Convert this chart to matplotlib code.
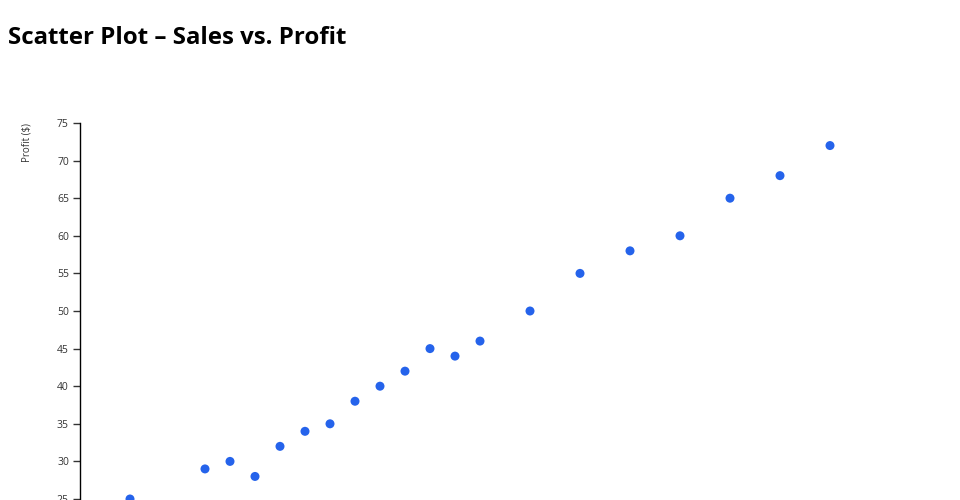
import matplotlib.pyplot as plt

# sales vs profit points
sales = [100, 250, 300, 350, 400, 450, 500, 550, 600, 650,
         700, 750, 800, 900, 1000, 1100, 1200, 1300, 1400, 1500]
profit = [25, 29, 30, 28, 32, 34, 35, 38, 40, 42,
          45, 44, 46, 50, 55, 58, 60, 65, 68, 72]
y_ticks = [25, 30, 35, 40, 45, 50, 55, 60, 65, 70, 75]

plt.rcParams['font.family'] = ['Open Sans', 'DejaVu Sans']

W, H = 960, 500
fig = plt.figure(figsize=(W / 100, H / 100), dpi=100)

# plot area runs past the bottom edge of the picture, like the reference
left, top = 80, 123
px_per_unit = (499 - 123) / 50
y_low = 20
bottom = top + (75 - y_low) * px_per_unit
x_high = 1700
right = left + x_high * 0.5
ax = fig.add_axes([left / W, 1 - bottom / H, (right - left) / W, (bottom - top) / H])

ax.scatter(sales, profit, s=42, color='#2563eb', edgecolors='none', zorder=3)

ax.set_xlim(0, x_high)
ax.set_ylim(y_low, 75)
ax.set_yticks(y_ticks)
ax.set_xticks([])

for side in ['top', 'right', 'bottom']:
    ax.spines[side].set_visible(False)
ax.spines['left'].set_linewidth(1)
ax.spines['left'].set_color('black')
ax.tick_params(axis='y', length=5, width=1, pad=3, labelsize=7.5, labelcolor='#333333', color='#333333')

fig.text(27 / W, 1 - 123 / H, 'Profit ($)', rotation=90, ha='center', va='top',
         fontsize=7, color='#333333')
fig.text(8 / W, 1 - 38 / H, 'Scatter Plot – Sales vs. Profit', ha='left', va='center',
         fontsize=17.3, fontweight='bold', color='black')

fig.savefig('out.png', dpi=100)
